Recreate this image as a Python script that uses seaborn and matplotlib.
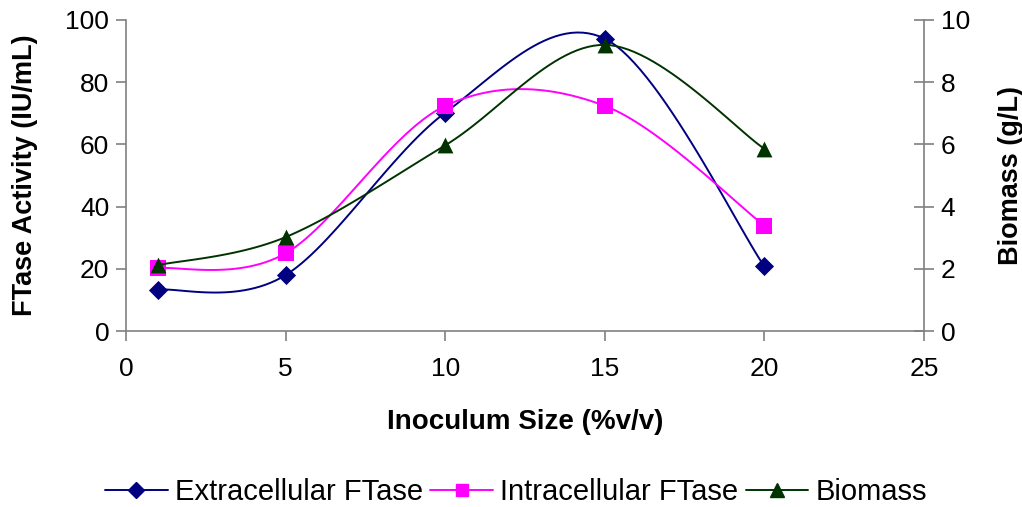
import numpy as np
import pandas as pd
import matplotlib
matplotlib.use("Agg")
import matplotlib.pyplot as plt
from matplotlib.lines import Line2D
import seaborn as sns

inoculum = [1, 5, 10, 15, 20]
extracellular = [13.3, 18.0, 70.2, 94.0, 20.8]
intracellular = [20.2, 25.0, 72.4, 72.4, 33.9]
biomass = [2.12, 3.02, 5.97, 9.2, 5.86]

sns.set_theme(style="white")
plt.rcParams['font.family'] = ['Liberation Sans', 'DejaVu Sans']
plt.rcParams['text.color'] = 'black'
plt.rcParams['axes.labelcolor'] = 'black'


def smooth(x, y, n=30):
    # Catmull-Rom style smoothing like Excel's "smoothed line"
    x = np.asarray(x, float)
    y = np.asarray(y, float)
    px = np.concatenate([[x[0]], x, [x[-1]]])
    py = np.concatenate([[y[0]], y, [y[-1]]])
    xs, ys = [], []
    t = np.linspace(0, 1, n)
    for i in range(1, len(px) - 2):
        p0, p1, p2, p3 = (np.array([px[k], py[k]]) for k in (i - 1, i, i + 1, i + 2))
        c1 = p1 + (p2 - p0) / 6
        c2 = p2 - (p3 - p1) / 6
        b = ((1 - t)[:, None] ** 3 * p1 + 3 * ((1 - t) ** 2 * t)[:, None] * c1
             + 3 * ((1 - t) * t ** 2)[:, None] * c2 + (t ** 3)[:, None] * p2)
        xs.extend(b[:, 0])
        ys.extend(b[:, 1])
    return pd.DataFrame({"x": xs, "y": ys})


c_ext = "#000080"
c_int = "#FF00FF"
c_bio = "#003300"

fig = plt.figure(figsize=(10.22, 5.07), dpi=100)
ax = fig.add_axes([0.1233, 0.347, 0.7808, 0.6136])
ax2 = ax.twinx()

for vals, col, mk, axis in [(extracellular, c_ext, "D", ax),
                            (intracellular, c_int, "s", ax),
                            (biomass, c_bio, "^", ax2)]:
    s = smooth(inoculum, vals)
    sns.lineplot(data=s, x="x", y="y", ax=axis, color=col, lw=1.4,
                 sort=False, estimator=None)
    sns.scatterplot(x=inoculum, y=vals, ax=axis, color=col, marker=mk,
                    s=130 if mk != "D" else 95, edgecolor=col, linewidth=0,
                    zorder=5)

ax.set_xlim(0, 25)
ax.set_ylim(0, 100)
ax2.set_ylim(0, 10)
ax.set_xticks([0, 5, 10, 15, 20, 25])
ax.set_yticks([0, 20, 40, 60, 80, 100])
ax2.set_yticks([0, 2, 4, 6, 8, 10])

for a in (ax, ax2):
    a.set_xlabel("")
    a.set_ylabel("")
    a.spines["top"].set_visible(False)
    for sp in a.spines.values():
        sp.set_color("#808080")
        sp.set_linewidth(1.2)
ax.spines["right"].set_visible(False)
ax2.spines["left"].set_visible(False)
ax2.spines["bottom"].set_visible(False)

ax.tick_params(axis="both", direction="out", length=7, width=1.2,
               color="#808080", labelsize=19, labelcolor="black", pad=5)
ax.tick_params(axis="x", pad=12)
ax.tick_params(left=True, bottom=True)
ax2.tick_params(axis="y", direction="inout", length=14, width=1.2,
                color="#808080", labelsize=19, labelcolor="black", pad=5,
                right=True)

ax.set_xlabel("Inoculum Size (%v/v)", fontsize=20, fontweight="bold", labelpad=20)
ax.set_ylabel("FTase Activity (IU/mL)", fontsize=19.5, fontweight="bold", labelpad=20)
ax2.set_ylabel("Biomass (g/L)", fontsize=19.5, fontweight="bold", labelpad=20)

handles = [
    Line2D([], [], color=c_ext, marker="D", markersize=8, lw=1.4),
    Line2D([], [], color=c_int, marker="s", markersize=9, lw=1.4),
    Line2D([], [], color=c_bio, marker="^", markersize=10, lw=1.4),
]
fig.legend(handles, ["Extracellular FTase", "Intracellular FTase", "Biomass"],
           loc="center", bbox_to_anchor=(0.505, 0.03), ncol=3, frameon=False,
           fontsize=21, handlelength=2.15, handletextpad=0.25, columnspacing=0.25,
           borderpad=0.1)

fig.savefig("out.png", dpi=100)
